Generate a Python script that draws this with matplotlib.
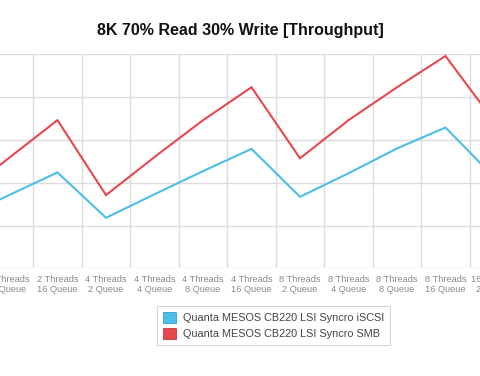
import matplotlib
matplotlib.use("Agg")
import matplotlib.pyplot as plt
from matplotlib.patches import Patch
from matplotlib.ticker import FixedLocator

plt.rcParams['font.family'] = ['Liberation Sans', 'DejaVu Sans']

categories = ["2 Threads\n4 Queue", "2 Threads\n8 Queue", "2 Threads\n16 Queue",
              "4 Threads\n2 Queue", "4 Threads\n4 Queue", "4 Threads\n8 Queue",
              "4 Threads\n16 Queue", "8 Threads\n2 Queue", "8 Threads\n4 Queue",
              "8 Threads\n8 Queue", "8 Threads\n16 Queue", "16 Threads\n2 Queue"]
iscsi = [11.7, 17.1, 22.4, 11.8, 17.3, 22.7, 27.9, 16.7, 22.2, 28.0, 32.9, 21.3]
smb = [16.8, 25.8, 34.6, 17.1, 26.0, 34.6, 42.3, 25.7, 34.6, 42.3, 49.6, 34.4]
series_names = ["Quanta MESOS CB220 LSI Syncro iSCSI", "Quanta MESOS CB220 LSI Syncro SMB"]
yticks = [0, 10, 20, 30, 40, 50]

blue = "#4DBDEB"
red = "#E8484C"

W, H = 480, 376
fig = plt.figure(figsize=(W / 100, H / 100), dpi=100)
left_px, right_px = -63.75, 518.25
top_px, bot_px = 54.3, 268.3
ax = fig.add_axes([left_px / W, 1 - bot_px / H, (right_px - left_px) / W, (bot_px - top_px) / H])

x = list(range(len(categories)))
ax.plot(x, iscsi, color=blue, lw=1.5, solid_joinstyle='miter')
ax.plot(x, smb, color=red, lw=1.5, solid_joinstyle='miter')

ax.set_xlim(-0.5, len(categories) - 0.5)
ax.set_ylim(0, 50)
ax.set_yticks(yticks)
ax.set_xticks(x)
ax.set_xticklabels(categories, fontsize=6.7, color="#8a8a8a", linespacing=1.15)
ax.xaxis.set_minor_locator(FixedLocator([i + 0.5 for i in range(-1, len(categories))]))
ax.tick_params(axis='both', which='both', length=0)
ax.tick_params(axis='x', pad=5)
ax.set_yticklabels([])
ax.grid(axis='y', color="#dcdcdc", lw=1)
ax.grid(axis='x', which='minor', color="#dcdcdc", lw=1)
ax.grid(axis='x', which='major', visible=False)
ax.set_axisbelow(True)
for s in ax.spines.values():
    s.set_visible(False)

fig.text(240 / W, 1 - 30 / H, "8K 70% Read 30% Write [Throughput]", ha='center', va='center',
         fontsize=11.5, fontweight='bold', color="#111111")

handles = [Patch(facecolor=blue, edgecolor="#3a9cc4", lw=0.6),
           Patch(facecolor=red, edgecolor="#c23a3d", lw=0.6)]
leg = fig.legend(handles, series_names, loc='center', bbox_to_anchor=(273.5 / W, 1 - 325.5 / H),
                 fontsize=7.8, frameon=True, fancybox=False, handlelength=1.2, handleheight=1.15,
                 handletextpad=0.6, labelspacing=0.45, borderpad=0.55, labelcolor="#444444")
leg.get_frame().set_edgecolor("#cccccc")
leg.get_frame().set_linewidth(0.8)

fig.savefig("out.png", dpi=100)
